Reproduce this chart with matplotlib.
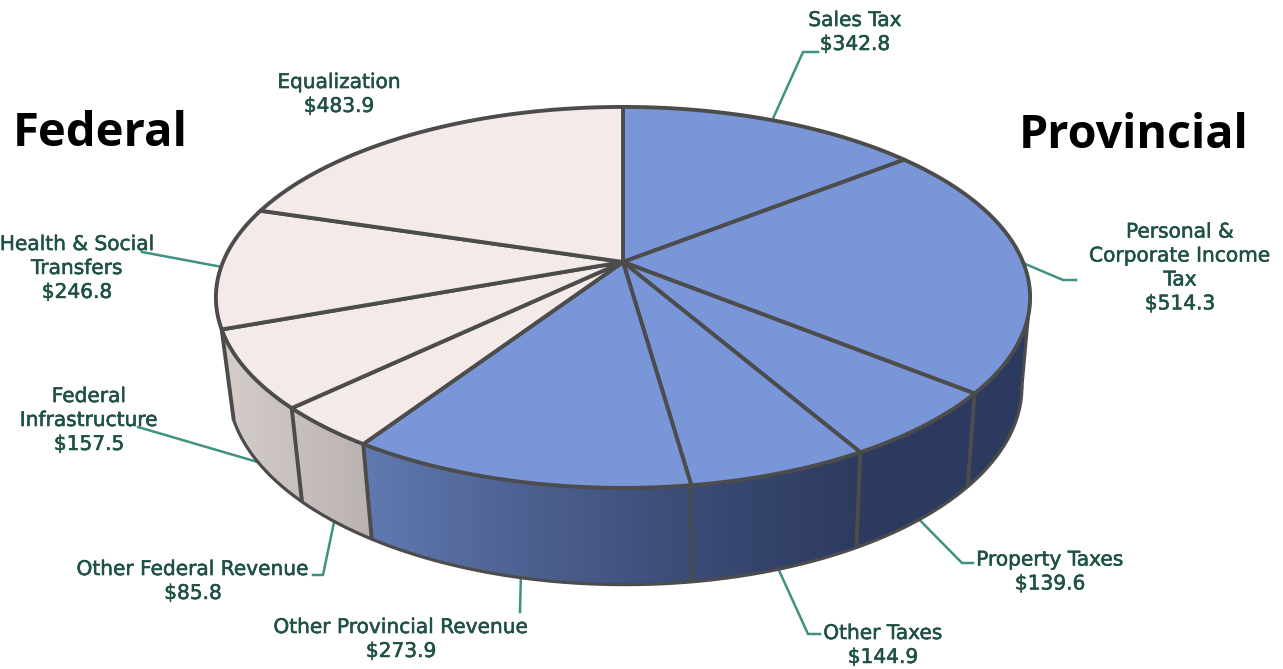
import numpy as np
import matplotlib
matplotlib.use("Agg")
import matplotlib.pyplot as plt
import matplotlib.patheffects as pe
from matplotlib.patches import Polygon
from matplotlib.colors import LinearSegmentedColormap

# ---- data (clockwise from 12 o'clock)
names = ["Sales Tax", "Personal &\nCorporate Income\nTax", "Property Taxes", "Other Taxes",
         "Other Provincial Revenue", "Other Federal Revenue", "Federal\nInfrastructure",
         "Health & Social\nTransfers", "Equalization"]
values = [342.8, 514.3, 139.6, 144.9, 273.9, 85.8, 157.5, 246.8, 483.9]
groups = ["P", "P", "P", "P", "P", "F", "F", "F", "F"]

# ---- layout (pixels of the picture)
W, H = 1283, 669
label_xy = [(855, 32.5), (1180, 268), (1050, 572), (883, 645.5), (401, 639.5), (193, 581.5),
            (89, 420.5), (77, 268.5), (339, 94.5)]
leader_tail = [[(803, 52), (818, 52)], [(1063, 280), (1076, 280)], [(962, 563), (973, 563)],
               [(808, 634), (820, 634)], [(520, 612)], [(323, 575), (313, 575)],
               [(138, 427)], [(142, 252)], None]
leader_on_bottom = [False, False, True, True, True, True, True, False, False]

TOP = dict(cx=623, cy=262, A=400, B=183.9)
BOT = dict(cx=625, cy=350, A=390, B=191)
K = 0.186

def rim(theta, g):
    u, v = np.sin(theta), np.cos(theta)
    d = 1 + K * v
    return g["cx"] + g["A"] * u / d, g["cy"] - g["B"] * v / d

def arc(t0, t1, g, n=160):
    x, y = rim(np.linspace(t0, t1, n), g)
    return np.column_stack([x, y])

fig = plt.figure(figsize=(W / 100, H / 100), dpi=100, facecolor="white")
ax = fig.add_axes([0, 0, 1, 1])

vals = np.array(values)
edges = np.concatenate([[0], np.cumsum(vals)]) / vals.sum() * 2 * np.pi
EDGE = "#4C4C4C"
top_col = {"P": "#7896D8", "F": "#F4EAE8"}
side_cm = {
    "P": LinearSegmentedColormap.from_list("p", [(0, "#6079B0"), (0.35, "#4A5D8C"), (0.61, "#3B4B75"),
                                                 (0.9, "#2E3C60"), (1, "#2B3A5E")]),
    "F": LinearSegmentedColormap.from_list("f", [(0, "#D6CECB"), (1, "#BAB2AE")]),
}
side_extent = {"P": (365, 900, 600, 250), "F": (220, 372, 600, 250)}
vis0 = np.arccos(-K)   # right silhouette of the disc
vis1 = edges[7]        # side wall stops at the Health / Infrastructure spoke

# side wall
grad = np.linspace(0, 1, 512).reshape(1, -1)
for i, grp in enumerate(groups):
    a, b = max(edges[i], vis0), min(edges[i + 1], vis1)
    if a >= b:
        continue
    pts = np.vstack([arc(a, b, TOP), arc(b, a, BOT)])
    clip = Polygon(pts, closed=True, transform=ax.transData, fc="none", ec="none")
    ax.add_patch(clip)
    im = ax.imshow(grad, cmap=side_cm[grp], extent=side_extent[grp], aspect="auto", zorder=1)
    im.set_clip_path(clip)
    ax.add_patch(Polygon(pts, closed=True, fc=side_cm[grp](1.0), ec="none", zorder=0.5))

ax.set_xlim(0, W)
ax.set_ylim(H, 0)
ax.axis("off")

# side outline and dividers
for e in edges[1:-1]:
    if vis0 < e <= vis1:
        x0, y0 = rim(e, TOP)
        x1, y1 = rim(e, BOT)
        ax.plot([x0, x1], [y0, y1], color=EDGE, lw=2.8, zorder=2, solid_capstyle="butt")
xb, yb = arc(vis0, vis1, BOT, 300).T
ax.plot(xb, yb, color=EDGE, lw=2.3, zorder=2)
x0, y0 = rim(vis0, TOP)
x1, y1 = rim(vis0, BOT)
ax.plot([x0, x1], [y0, y1], color=EDGE, lw=2.2, zorder=2)

# top faces
for i, grp in enumerate(groups):
    pts = np.vstack([[TOP["cx"], TOP["cy"]], arc(edges[i], edges[i + 1], TOP)])
    ax.add_patch(Polygon(pts, closed=True, fc=top_col[grp], ec=EDGE, lw=2.8, joinstyle="round", zorder=3))

# leaders
LEAD = "#3F9280"
for i, tail in enumerate(leader_tail):
    if tail is None:
        continue
    mid = (edges[i] + edges[i + 1]) / 2
    g = BOT if leader_on_bottom[i] else TOP
    pts = [rim(mid, g)] + list(tail)
    xs, ys = zip(*pts)
    ax.plot(xs, ys, color=LEAD, lw=1.8, zorder=1.5, solid_joinstyle="round")

# labels
for nm, v, (x, y) in zip(names, values, label_xy):
    t = ax.text(x, y, f"{nm}\n${v:.1f}", ha="center", va="center", ma="center", fontsize=14.5,
                color="#1F5147", family="DejaVu Sans", linespacing=1.33, zorder=5)
    t.set_path_effects([pe.withStroke(linewidth=0.4, foreground="#1F5147")])

ax.text(100, 133, "Federal", ha="center", va="center", fontsize=34, fontweight="bold",
        family="Open Sans", color="black", zorder=5)
ax.text(1134, 135, "Provincial", ha="center", va="center", fontsize=33.6, fontweight="bold",
        family="Open Sans", color="black", zorder=5)

fig.savefig("out.png", dpi=100, facecolor="white")
